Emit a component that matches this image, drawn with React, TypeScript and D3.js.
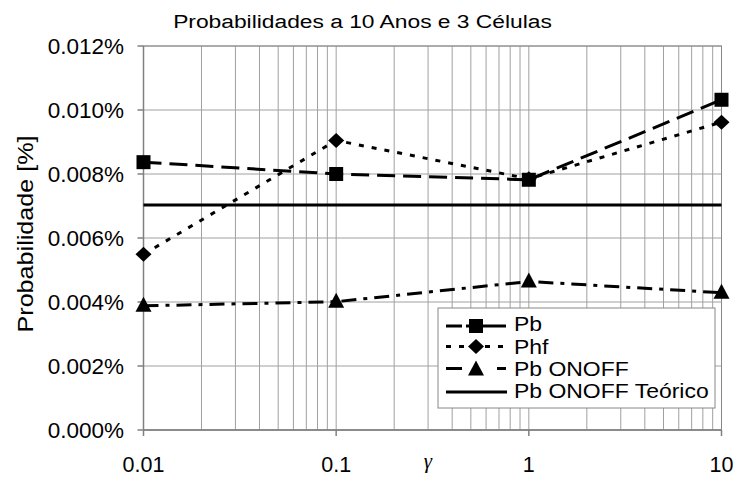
import React from "react";
import * as d3 from "d3";

const gammas = [0.01, 0.1, 1, 10];
const pb = [0.00837, 0.0080, 0.00782, 0.01032];
const phf = [0.00549, 0.00905, 0.00785, 0.00962];
const pbOnoff = [0.00388, 0.00401, 0.00464, 0.00429];
const pbTeorico = [0.00703, 0.00703];
const teoricoX = [0.01, 10];
const yTicks = [0, 0.002, 0.004, 0.006, 0.008, 0.01, 0.012];
const xTicks = [0.01, 0.1, 1, 10];
const seriesNames = ["Pb", "Phf", "Pb ONOFF", "Pb ONOFF Teórico"];

const W = 733, H = 477;
const L = 143.5, R = 721.5, T = 46, B = 430;
const font = "Liberation Sans, Arial, sans-serif";

function SText(props: { x: number; y: number; sx: number; size: number; anchor?: string; rotate?: number; children: any }) {
  const { x, y, sx, size, anchor, rotate, children } = props;
  return (
    <text
      transform={`translate(${x},${y})${rotate ? ` rotate(${rotate})` : ""} scale(${sx},1)`}
      textAnchor={anchor || "start"}
      fontSize={size}
      fill="#000"
    >
      {children}
    </text>
  );
}

export default function App() {
  const x = d3.scaleLog().domain([0.01, 10]).range([L, R]);
  const y = d3.scaleLinear().domain([0, 0.012]).range([B, T]);
  const minor: number[] = [];
  [0.01, 0.1, 1].forEach((d) => {
    for (let k = 2; k <= 9; k++) minor.push(d * k);
  });
  const line = d3.line<[number, number]>().x((d) => x(d[0])).y((d) => y(d[1]));
  const pts = (vals: number[]) => gammas.map((g, i) => [g, vals[i]] as [number, number]);

  const square = (cx: number, cy: number, k: string) => (
    <rect key={k} x={cx - 7} y={cy - 7} width={14} height={14} fill="#000" />
  );
  const diamond = (cx: number, cy: number, k: string) => (
    <path key={k} d={`M${cx},${cy - 7.5}L${cx + 8},${cy}L${cx},${cy + 7.5}L${cx - 8},${cy}Z`} fill="#000" />
  );
  const tri = (cx: number, cy: number, k: string) => (
    <path key={k} d={`M${cx},${cy - 9}L${cx + 8},${cy + 6}L${cx - 8},${cy + 6}Z`} fill="#000" />
  );

  const dashPb = "18,8";
  const dashPhf = "5,8";
  const dashOn = "15,7,4,7";

  const legX = 438, legY = 308, legW = 277, legH = 100;
  const rowLine = [326, 346.5, 368.5, 392];
  const rowBase = [331, 353.5, 376, 398];

  return (
    <svg width={W} height={H} style={{ position: "absolute", left: 0, top: 0 }} fontFamily={font}>
      <rect x={0} y={0} width={W} height={H} fill="#fff" />
      {/* grid */}
      {minor.map((v, i) => (
        <line key={"m" + i} x1={x(v)} x2={x(v)} y1={T} y2={B} stroke="#a0a0a0" strokeWidth={1} />
      ))}
      {xTicks.map((v, i) => (
        <line key={"xg" + i} x1={x(v)} x2={x(v)} y1={T} y2={B} stroke="#a0a0a0" strokeWidth={1} />
      ))}
      {yTicks.map((v, i) => (
        <line key={"yg" + i} x1={L} x2={R} y1={y(v)} y2={y(v)} stroke="#a0a0a0" strokeWidth={1} />
      ))}
      <rect x={L} y={T} width={R - L} height={B - T} fill="none" stroke="#888" strokeWidth={1} />
      {/* axes */}
      <line x1={L} x2={L} y1={T} y2={B} stroke="#808080" strokeWidth={1.5} />
      <line x1={L} x2={R} y1={B} y2={B} stroke="#808080" strokeWidth={1.5} />
      {yTicks.map((v, i) => (
        <g key={"yt" + i}>
          <line x1={L - 6} x2={L} y1={y(v)} y2={y(v)} stroke="#808080" strokeWidth={1.5} />
          <text x={124} y={y(v) + 7.8} textAnchor="end" fontSize={22.5} fill="#000">
            {v.toFixed(3) + "%"}
          </text>
        </g>
      ))}
      {xTicks.map((v, i) => (
        <g key={"xt" + i}>
          <line x1={x(v)} x2={x(v)} y1={B} y2={B + 6} stroke="#808080" strokeWidth={1.5} />
          <text x={x(v)} y={472} textAnchor="middle" fontSize={21.5} fill="#000">
            {String(v)}
          </text>
        </g>
      ))}
      {/* series */}
      <path d={line(teoricoX.map((g, i) => [g, pbTeorico[i]] as [number, number])) || ""} fill="none" stroke="#000" strokeWidth={3} />
      <path d={line(pts(pbOnoff)) || ""} fill="none" stroke="#000" strokeWidth={3} strokeDasharray={dashOn} />
      <path d={line(pts(phf)) || ""} fill="none" stroke="#000" strokeWidth={3} strokeDasharray={dashPhf} />
      <path d={line(pts(pb)) || ""} fill="none" stroke="#000" strokeWidth={3} strokeDasharray={dashPb} />
      {pts(pbOnoff).map((d, i) => tri(x(d[0]), y(d[1]), "t" + i))}
      {pts(phf).map((d, i) => diamond(x(d[0]), y(d[1]), "d" + i))}
      {pts(pb).map((d, i) => square(x(d[0]), y(d[1]), "s" + i))}
      {/* legend */}
      <rect x={legX} y={legY} width={legW} height={legH} fill="#fff" stroke="#888" strokeWidth={1} />
      <line x1={446} x2={506} y1={rowLine[0]} y2={rowLine[0]} stroke="#000" strokeWidth={3} strokeDasharray="16,4,60" />
      {square(476, rowLine[0], "ls")}
      <line x1={446} x2={506} y1={rowLine[1]} y2={rowLine[1]} stroke="#000" strokeWidth={3} strokeDasharray="5,8" />
      {diamond(476, rowLine[1], "ld")}
      <line x1={446} x2={506} y1={rowLine[2]} y2={rowLine[2]} stroke="#000" strokeWidth={3} strokeDasharray="16,35,9" />
      {tri(476, rowLine[2] + 1, "lt")}
      <line x1={446} x2={507} y1={rowLine[3]} y2={rowLine[3]} stroke="#000" strokeWidth={3} />
      {seriesNames.map((n, i) => (
        <SText key={"ln" + i} x={514} y={rowBase[i]} sx={1.12} size={20.5}>
          {n}
        </SText>
      ))}
      {/* titles */}
      <SText x={362.5} y={28.3} sx={1.2} size={19} anchor="middle">
        Probabilidades a 10 Anos e 3 Células
      </SText>
      <SText x={33} y={234} sx={1.17} size={21.5} anchor="middle" rotate={-90}>
        Probabilidade [%]
      </SText>
      <text x={428} y={468} textAnchor="middle" fontSize={21} fontStyle="italic" fontFamily="Liberation Serif, Times New Roman, serif" fill="#000">
        γ
      </text>
    </svg>
  );
}
